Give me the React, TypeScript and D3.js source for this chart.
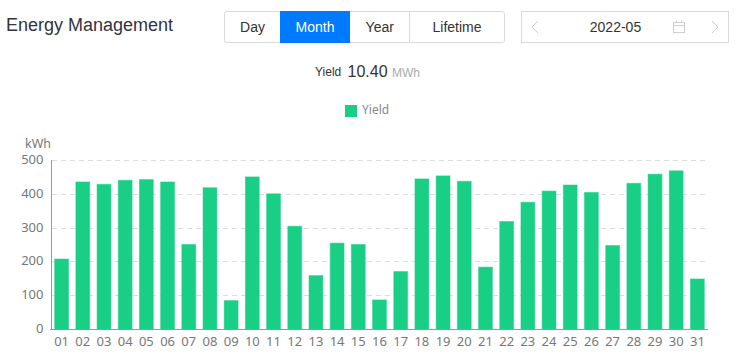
import React from "react";
import * as d3 from "d3";

const days = ["01","02","03","04","05","06","07","08","09","10","11","12","13","14","15","16","17","18","19","20","21","22","23","24","25","26","27","28","29","30","31"];
const yieldValues = [207,435,428,440,442,435,250,418,84,450,400,304,158,254,250,86,170,444,453,437,183,318,375,408,426,404,247,431,458,468,148];
const yTicks = [0,100,200,300,400,500];
const tabs = [
  { label: "Day", x0: 225, x1: 280 },
  { label: "Month", x0: 280, x1: 350 },
  { label: "Year", x0: 350, x1: 409.5 },
  { label: "Lifetime", x0: 409.5, x1: 504.5 },
];
const GREEN = "#19cf86";
const sans = "'Liberation Sans', Arial, sans-serif";
const axisFont = "'Noto Sans', sans-serif";

export default function App() {
  const x = d3.scaleBand<string>().domain(days).range([51, 708]).paddingInner(0.3).paddingOuter(0.15);
  const y = d3.scaleLinear().domain([0, 500]).range([329, 160]);
  return (
    <svg width={738} height={356} style={{ position: "fixed", left: 0, top: 0, background: "#fff" }}>
      <text x={6} y={31} fontFamily={sans} fontSize={18} fill="#333344">Energy Management</text>

      <rect x={224.5} y={11.5} width={280} height={31} rx={2} fill="#fff" stroke="#d9d9d9" />
      {tabs.map((t, i) => (
        <g key={t.label}>
          {t.label === "Month" && <rect x={t.x0} y={11} width={t.x1 - t.x0} height={32} fill="#007bff" />}
          {i === 3 && <line x1={t.x0} x2={t.x0} y1={12} y2={42} stroke="#d9d9d9" />}
          <text x={(t.x0 + t.x1) / 2} y={32} textAnchor="middle" fontFamily={sans} fontSize={14}
            fill={t.label === "Month" ? "#fff" : "#333"}>{t.label}</text>
        </g>
      ))}

      <rect x={521.5} y={11.5} width={207} height={31} fill="#fff" stroke="#d9d9d9" />
      <path d="M538 21 L532 27 L538 33" fill="none" stroke="#cfcfcf" />
      <path d="M712 21 L718 27 L712 33" fill="none" stroke="#cfcfcf" />
      <text x={615.5} y={32} textAnchor="middle" fontFamily={sans} fontSize={14} fill="#333">2022-05</text>
      <g fill="none" stroke="#cfcfcf">
        <rect x={673.5} y={22.5} width={11} height={10} />
        <line x1={673.5} x2={684.5} y1={25.5} y2={25.5} />
        <line x1={676.5} x2={676.5} y1={20.5} y2={23} />
        <line x1={681.5} x2={681.5} y1={20.5} y2={23} />
      </g>

      <text x={315} y={76} fontFamily={sans} fontSize={12} fill="#333">Yield</text>
      <text x={347.5} y={77} fontFamily={sans} fontSize={16} fill="#333">10.40</text>
      <text x={392} y={77} fontFamily={sans} fontSize={12} fill="#aaa">MWh</text>

      <rect x={345} y={105} width={12} height={12} fill={GREEN} />
      <text x={362} y={114} fontFamily={axisFont} fontSize={12} fill="#888">Yield</text>

      <text x={25} y={148} fontFamily={axisFont} fontSize={12.5} fill="#777">kWh</text>

      {yTicks.filter(v => v > 0).map(v => (
        <line key={v} x1={52} x2={708} y1={Math.round(y(v)) + 0.5} y2={Math.round(y(v)) + 0.5}
          stroke="#dddddd" strokeDasharray="5 4" />
      ))}

      {days.map((d, i) => (
        <rect key={d} x={x(d)! + 0.5} y={y(yieldValues[i])} width={x.bandwidth() - 1}
          height={y(0) - y(yieldValues[i])} fill={GREEN} stroke="rgba(25,207,134,0.5)" strokeWidth={1} />
      ))}

      <line x1={51.5} x2={51.5} y1={160} y2={329} stroke="#999" />
      <line x1={50} x2={708} y1={329.5} y2={329.5} stroke="#999" />

      {yTicks.map(v => (
        <text key={v} x={43.5} y={y(v) + 4} textAnchor="end" fontFamily={axisFont} fontSize={13} fill="#777">{v}</text>
      ))}
      {days.map(d => (
        <text key={d} x={x(d)! + x.bandwidth() / 2} y={346} textAnchor="middle" fontFamily={axisFont} fontSize={13} fill="#777">{d}</text>
      ))}
    </svg>
  );
}
